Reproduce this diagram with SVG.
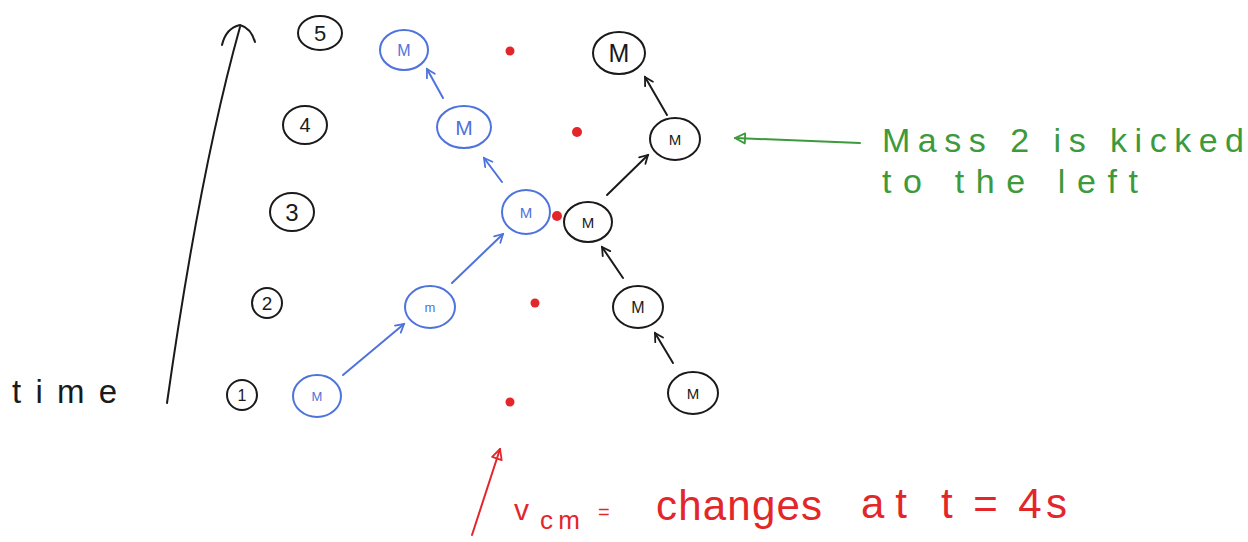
<svg xmlns="http://www.w3.org/2000/svg" width="1248" height="542" viewBox="0 0 1248 542">
  <style>
    .bk { fill: none; stroke: #1a1a1a; stroke-width: 2; stroke-linecap: round; }
    .bl { fill: none; stroke: #4f73dc; stroke-width: 2; stroke-linecap: round; }
    .gr { fill: none; stroke: #3c9a3c; stroke-width: 2; stroke-linecap: round; }
    .rd { fill: none; stroke: #e3262a; stroke-width: 2; stroke-linecap: round; }
    .tk { font-family: "Liberation Sans", Arial, sans-serif; fill: #1a1a1a; text-anchor: middle; }
    .tb { font-family: "Liberation Sans", Arial, sans-serif; fill: #4f73dc; text-anchor: middle; }
    .tg { font-family: "Liberation Sans", Arial, sans-serif; fill: #3c9a3c; font-size: 34px; }
    .tr { font-family: "Liberation Sans", Arial, sans-serif; fill: #e3262a; }
    .dot { fill: #e3262a; }
  </style>
  <defs>
    <marker id="vb" viewBox="0 0 12 12" refX="10" refY="6" markerWidth="12" markerHeight="12" markerUnits="userSpaceOnUse" orient="auto">
      <path d="M2,1.5 L10,6 L2,10.5" fill="none" stroke="#4f73dc" stroke-width="1.8" stroke-linecap="round"/>
    </marker>
    <marker id="vk" viewBox="0 0 12 12" refX="10" refY="6" markerWidth="12" markerHeight="12" markerUnits="userSpaceOnUse" orient="auto">
      <path d="M2,1.5 L10,6 L2,10.5" fill="none" stroke="#1a1a1a" stroke-width="1.8" stroke-linecap="round"/>
    </marker>
    <marker id="tg" viewBox="0 0 14 14" refX="12" refY="7" markerWidth="14" markerHeight="14" markerUnits="userSpaceOnUse" orient="auto">
      <path d="M2,2 L12,7 L2,12 Z" fill="none" stroke="#3c9a3c" stroke-width="1.8" stroke-linejoin="round"/>
    </marker>
    <marker id="tr" viewBox="0 0 14 14" refX="12" refY="7" markerWidth="14" markerHeight="14" markerUnits="userSpaceOnUse" orient="auto">
      <path d="M2,2 L12,7 L2,12 Z" fill="none" stroke="#e3262a" stroke-width="1.8" stroke-linejoin="round"/>
    </marker>
  </defs>

  <!-- time axis -->
  <g id="time-axis">
    <path class="bk" d="M167,403 Q200,170 240,27"/>
    <path class="bk" d="M222,45 Q226,28 240,25 Q251,28 255,42"/>
    <text class="tk" x="12" y="403" font-size="33" textLength="105" lengthAdjust="spacing" style="text-anchor:start">time</text>
  </g>

  <!-- time labels -->
  <g id="t5"><ellipse class="bk" cx="320" cy="33" rx="22" ry="17"/><text class="tk" x="320" y="41" font-size="22">5</text></g>
  <g id="t4"><ellipse class="bk" cx="305" cy="125" rx="22" ry="19"/><text class="tk" x="305" y="132" font-size="20">4</text></g>
  <g id="t3"><ellipse class="bk" cx="292" cy="212" rx="22" ry="19"/><text class="tk" x="292" y="221" font-size="24">3</text></g>
  <g id="t2"><ellipse class="bk" cx="267" cy="303" rx="15" ry="15"/><text class="tk" x="267" y="310" font-size="19">2</text></g>
  <g id="t1"><ellipse class="bk" cx="242" cy="395" rx="15" ry="15"/><text class="tk" x="242" y="401" font-size="16">1</text></g>

  <!-- centre of mass dots -->
  <g id="cm-dots">
    <circle class="dot" cx="510" cy="51" r="4.5"/>
    <circle class="dot" cx="577" cy="132" r="5"/>
    <circle class="dot" cx="557" cy="216" r="5"/>
    <circle class="dot" cx="535" cy="303" r="4.5"/>
    <circle class="dot" cx="510" cy="402" r="4.5"/>
  </g>

  <!-- blue mass -->
  <g id="b1"><ellipse class="bl" cx="317" cy="396" rx="24" ry="21"/><text class="tb" x="317" y="401" font-size="13">M</text></g>
  <g id="b2"><ellipse class="bl" cx="430" cy="307" rx="25" ry="21"/><text class="tb" x="430" y="312" font-size="13">m</text></g>
  <g id="b3"><ellipse class="bl" cx="526" cy="212" rx="24" ry="22"/><text class="tb" x="526" y="218" font-size="15">M</text></g>
  <g id="b4"><ellipse class="bl" cx="464" cy="127" rx="27" ry="21"/><text class="tb" x="464" y="135" font-size="21">M</text></g>
  <g id="b5"><ellipse class="bl" cx="404" cy="50" rx="24" ry="20"/><text class="tb" x="404" y="56" font-size="16">M</text></g>

  <!-- black mass -->
  <g id="k1"><ellipse class="bk" cx="693" cy="393" rx="25" ry="21"/><text class="tk" x="693" y="399" font-size="15">M</text></g>
  <g id="k2"><ellipse class="bk" cx="638" cy="307" rx="25" ry="21"/><text class="tk" x="638" y="313" font-size="16">M</text></g>
  <g id="k3"><ellipse class="bk" cx="588" cy="222" rx="24" ry="20"/><text class="tk" x="588" y="228" font-size="15">M</text></g>
  <g id="k4"><ellipse class="bk" cx="675" cy="139" rx="25" ry="21"/><text class="tk" x="675" y="145" font-size="15">M</text></g>
  <g id="k5"><ellipse class="bk" cx="619" cy="53" rx="26" ry="21"/><text class="tk" x="619" y="62" font-size="25">M</text></g>

  <!-- connectors -->
  <g id="connectors">
    <line class="bl" x1="343" y1="375" x2="404" y2="324" marker-end="url(#vb)"/>
    <line class="bl" x1="452" y1="283" x2="503" y2="234" marker-end="url(#vb)"/>
    <line class="bl" x1="502" y1="182" x2="484" y2="158" marker-end="url(#vb)"/>
    <line class="bl" x1="443" y1="98" x2="427" y2="69" marker-end="url(#vb)"/>
    <line class="bk" x1="673" y1="363" x2="655" y2="333" marker-end="url(#vk)"/>
    <line class="bk" x1="623" y1="278" x2="602" y2="247" marker-end="url(#vk)"/>
    <line class="bk" x1="607" y1="195" x2="648" y2="155" marker-end="url(#vk)"/>
    <line class="bk" x1="667" y1="115" x2="645" y2="77" marker-end="url(#vk)"/>
    <line class="gr" x1="860" y1="143" x2="735" y2="138" marker-end="url(#tg)"/>
    <line class="rd" x1="472" y1="535" x2="500" y2="449" marker-end="url(#tr)"/>
  </g>

  <!-- green annotation -->
  <g id="kick-note">
    <text class="tg" x="882" y="152" textLength="362" lengthAdjust="spacing">Mass 2 is kicked</text>
    <text class="tg" x="882" y="193" textLength="256" lengthAdjust="spacing">to the left</text>
  </g>

  <!-- red annotation -->
  <g id="vcm-note">
    <text class="tr" x="514" y="520" font-size="30">v</text>
    <text class="tr" x="540" y="529" font-size="26" textLength="40" lengthAdjust="spacing">cm</text>
    <text class="tr" x="598" y="519" font-size="20">=</text>
    <text class="tr" x="656" y="520" font-size="42" textLength="166" lengthAdjust="spacing">changes</text>
    <text class="tr" x="861" y="518" font-size="42" textLength="46" lengthAdjust="spacing">at</text>
    <text class="tr" x="941" y="518" font-size="42" textLength="126" lengthAdjust="spacing">t = 4s</text>
  </g>
</svg>
